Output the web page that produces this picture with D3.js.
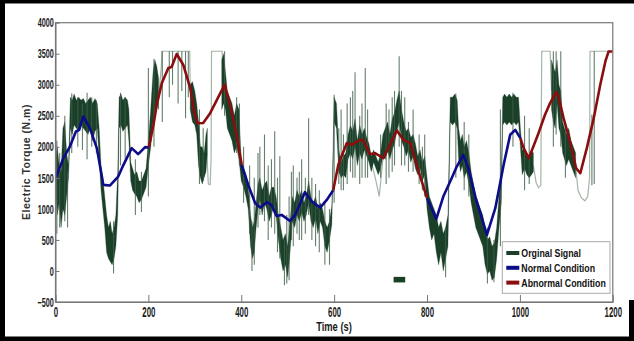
<!DOCTYPE html>
<html>
<head>
<meta charset="utf-8">
<script src="https://cdn.jsdelivr.net/npm/d3@7"></script>
<style>
  html, body { margin: 0; padding: 0; background: #fff; }
  svg { display: block; }
</style>
</head>
<body>
<div id="chart"></div>
<script>
// axis ticks
const xTicks = [0, 200, 400, 600, 800, 1000, 1200];
const yTicks = [-500, 0, 500, 1000, 1500, 2000, 2500, 3000, 3500, 4000];

// original signal: dense band [time, low, high], null = only thin trace there
const signalBand = [
  [0, 1300, 1800], [4, 900, 2000], [8, 1100, 1700], [12, 700, 1600], [16, 1000, 2300],
  [20, 900, 2400], [24, 1200, 1900], [28, 1500, 1700], [32, 2300, 2800], [36, 2200, 2750],
  [40, 2350, 2850], [45, 2300, 2750], [50, 2250, 2800], [55, 2350, 2750], [60, 2300, 2780],
  [65, 2250, 2700], [70, 2200, 2750], [75, 2300, 2800], [80, 2100, 2700], [85, 2250, 2780],
  [90, 2300, 2700], [94, 1800, 2300], [98, 1300, 1700], [102, 1000, 1500], [106, 700, 1200],
  [110, 300, 900], [114, 200, 700], [118, 150, 800], [122, 100, 600], [126, 200, 700],
  [130, 400, 900], [134, 900, 1600], [137, 2300, 2800], [141, 2350, 2850], [145, 2250, 2750],
  [150, 2300, 2800], [155, 2350, 2750], [158, 2100, 2600], [162, 1450, 1750], [166, 1300, 1650],
  [170, 1250, 1550], [175, 1200, 1600], [180, 1100, 1450], [185, 1150, 1450], [190, 1250, 1550],
  [195, 1350, 1650], [200, 1700, 2100], [205, 2000, 2600], [210, 2400, 3200], [214, 2600, 3400],
  [218, 2700, 3300], [222, 2600, 3100], [225, null, null],
  [290, 2600, 3000], [295, 2400, 3050], [300, 2350, 2900], [304, 2200, 2700], [308, 1700, 2400],
  [312, 1500, 2000], [316, 1400, 2000], [320, 1500, 1900], [324, 1600, 2200], [327, 1900, 2300],
  [330, null, null],
  [358, 2600, 3400], [362, 2700, 3500], [366, 2600, 3200], [370, 2300, 2900], [375, 2200, 2800],
  [380, 2100, 2700], [385, 1900, 2500], [390, 2000, 2700], [395, 1800, 2600], [400, 1450, 1750],
  [405, 1350, 1650], [410, 1200, 1550], [415, 1000, 1350], [420, 400, 900], [424, 200, 700],
  [428, 300, 800], [432, 700, 1100], [436, 1000, 1400], [440, 1150, 1500], [445, 900, 1300],
  [450, 1100, 1400], [455, 1000, 1450], [460, 800, 1200], [465, 900, 1350], [470, 1050, 1350],
  [475, 900, 1200], [480, 500, 900], [485, 200, 700], [490, 0, 500], [495, 100, 600],
  [500, -100, 400], [505, 300, 800], [510, 800, 1200], [515, 700, 1100], [520, 900, 1300],
  [525, 800, 1200], [530, 950, 1300], [535, 800, 1100], [540, 900, 1200], [545, 1100, 1450],
  [550, 800, 1200], [555, 700, 1100], [560, 850, 1200], [565, 600, 1000], [570, 800, 1100],
  [575, 700, 1000], [580, 400, 800], [585, 300, 700], [590, 500, 800], [595, 750, 1050],
  [600, 2400, 2800], [605, 2300, 2700], [610, 1600, 1950], [615, 1500, 1750], [620, 1550, 1850],
  [625, 1500, 1900], [630, 1800, 2200], [635, 1900, 2350], [640, 1800, 2250], [645, 2000, 2450],
  [650, 1700, 2100], [655, 1900, 2350], [660, 1800, 2200], [665, 1950, 2300], [670, 1850, 2150],
  [675, 1750, 2050], [680, 1600, 1850], [685, 1750, 1950], [690, 1650, 1850], [695, 1550, 1750],
  [700, 1650, 1900], [705, 1850, 2200], [710, 1800, 2300], [715, 1950, 2400], [720, 1800, 2200],
  [725, 1950, 2450], [730, 2050, 2550], [735, 2250, 2750], [740, 2400, 2900], [745, 2100, 2600],
  [750, 2000, 2400], [755, 1850, 2250], [760, 1950, 2300], [765, 1750, 2150], [770, 1850, 2200],
  [775, 1650, 2050], [780, 1550, 1850], [785, 1650, 1950], [790, 1450, 1750], [795, 1550, 1850],
  [800, 1000, 1500], [805, 700, 1200], [810, 500, 1100], [815, 600, 1000], [820, 300, 900],
  [825, 100, 700], [830, 300, 800], [835, 0, 600], [840, 200, 700], [845, 400, 900],
  [850, 2400, 2800], [855, 2350, 2800], [860, 2400, 2850], [865, 2300, 2750], [868, 1800, 2300],
  [872, 1600, 2100], [876, 1700, 2200], [880, 1500, 2000], [885, 1600, 2100], [890, 1400, 1900],
  [895, 1100, 1600], [900, 900, 1400], [905, 700, 1200], [910, 600, 1100], [915, 500, 1000],
  [920, 400, 900], [925, 100, 700], [930, -50, 500], [935, 0, 550], [940, -150, 400],
  [945, -100, 450], [950, 200, 700], [955, 700, 1200], [960, 1100, 1600], [963, 2350, 2800],
  [967, 2400, 2850], [972, 2350, 2800], [977, 2400, 2850], [982, 2350, 2800], [987, 2400, 2850],
  [992, 2350, 2800], [997, 2400, 2800], [1001, 2000, 2300], [1005, 1550, 1950], [1010, 1650, 1950],
  [1015, 1550, 1850], [1020, 1500, 1850], [1025, 1550, 1950], [1029, 1600, 1900], [1032, null, null],
  [1068, 2600, 3400], [1072, 2400, 3300], [1076, 2300, 3200], [1080, 2700, 3400], [1084, 2300, 3000],
  [1088, 2200, 2900], [1092, 1900, 2400], [1096, 1800, 2300], [1100, 1700, 2200], [1105, 1800, 2300],
  [1110, 1700, 2100], [1115, 1600, 2000], [1120, 1500, 1900], [1123, null, null]
];

// original signal: single spikes [time, low, high]
const signalSpikes = [
  [3, 600, 2100], [9, 700, 1900], [20, 800, 2500], [26, 700, 1600], [35, 1900, 2860],
  [48, 2000, 2800], [58, 1950, 2700], [68, 1800, 2870], [78, 2000, 2800], [88, 1900, 2750],
  [125, -40, 800], [140, 1700, 2870], [150, 1800, 2800], [172, 900, 1800], [185, 950, 1600],
  [200, 1200, 3270], [212, 2000, 3420], [230, 2400, 3540], [245, 2800, 3540], [252, 3000, 3540],
  [264, 2700, 3540], [272, 2900, 3540], [280, 2460, 3540], [286, 2800, 3540], [310, 1400, 2600],
  [318, 1450, 2300], [364, 2500, 3540], [390, 1900, 2800], [396, 1700, 2700], [405, 1100, 2000],
  [418, 600, 1700], [423, 0, 800], [428, 100, 1500], [436, 700, 1900], [440, 900, 2000],
  [450, 800, 2200], [458, 500, 1700], [465, 700, 1800], [472, 600, 2250], [478, 300, 1500],
  [483, 200, 1850], [493, -230, 500], [498, -200, 900], [503, -150, 1200], [508, 500, 1600],
  [512, 400, 1700], [520, 600, 1500], [525, 500, 1600], [530, 500, 1800], [538, 600, 1500],
  [545, 900, 2460], [552, 500, 1500], [560, 400, 1400], [568, 300, 1300], [580, 100, 1100],
  [590, 100, 1000], [600, 1100, 2840], [610, 1400, 2300], [615, 1300, 2600], [620, 1300, 2200],
  [628, 1400, 2700], [635, 1600, 2800], [640, 1500, 2900], [645, 1500, 3200], [655, 1400, 2500],
  [660, 1500, 2700], [667, 1500, 3270], [672, 1500, 2600], [700, 1500, 2200], [712, 1400, 2700],
  [718, 1500, 2600], [725, 1600, 2800], [730, 1700, 2900], [740, 2000, 3460], [745, 1700, 2900],
  [752, 1700, 2800], [760, 1600, 2400], [770, 1600, 2600], [783, 1400, 2200], [790, 1300, 2000],
  [795, 1200, 2200], [840, -100, 700], [862, 1500, 2860], [880, 1300, 2400], [890, 1200, 2200],
  [930, -200, 700], [944, -180, 500], [958, 400, 2600], [985, 2000, 2870], [1010, 1300, 2500],
  [1020, 1400, 2300], [1072, 2000, 3540], [1078, 2200, 3540], [1088, 2000, 3540], [1098, 1500, 2400],
  [1155, 1380, 2520], [1160, 1400, 3540]
];

// original signal: thin pale trace where it saturates [time, value]
const signalTrace = [
  [222, 2800], [228, 3300], [229, 3540], [289, 3540], [290, 2900], [null, null],
  [326, 1900], [329, 1400], [333, 1390], [335, 1800], [336, 3540], [359, 3540], [360, 2900], [null, null],
  [677, 1850], [690, 1450], [697, 1200], [705, 1800], [null, null],
  [1029, 1700], [1035, 1420], [1040, 1340], [1045, 1380], [1047, 3540], [1065, 3540], [1068, 2900], [null, null],
  [1120, 1700], [1125, 1300], [1132, 1180], [1140, 1130], [1146, 1200], [1150, 1500], [1151, 3540], [1200, 3540]
];

// stray signal fragment below the curves [t0, t1, v0, v1]
const strayMark = [728, 753, -95, -185];

// normal condition (blue) segments
const normalSegs = [
  [[0, 1495], [17, 1818], [31, 2005], [44, 2247], [51, 2274], [60, 2489], [74, 2301], [89, 1979],
   [103, 1387], [117, 1376], [135, 1521], [143, 1656], [164, 1979], [178, 1882], [193, 1995], [201, 1989]],
  [[401, 1710], [415, 1387], [430, 1092], [441, 1021], [455, 1108], [465, 1065], [476, 887], [487, 903],
   [505, 806], [516, 903], [527, 1092], [537, 1269], [552, 1118], [570, 1021], [584, 1145], [598, 1300]],
  [[800, 1172], [820, 839], [835, 1199], [853, 1495], [864, 1683], [878, 1871], [889, 1656], [904, 1199],
   [929, 581], [947, 1011], [965, 1710], [979, 2194], [990, 2274], [1001, 2140]]
];

// abnormal condition (red) segments
const abnormalSegs = [
  [[201, 1989], [211, 2355], [218, 2677], [229, 3027], [243, 3269], [250, 3285], [261, 3495], [275, 3323],
   [290, 2950], [300, 2520], [306, 2380], [318, 2385], [333, 2543], [344, 2704], [364, 3000], [376, 2677],
   [390, 2194], [401, 1710]],
  [[598, 1300], [609, 1710], [627, 2059], [637, 2032], [656, 2113], [663, 2100], [677, 1882], [688, 1898],
   [706, 1818], [717, 1979], [735, 2263], [749, 2113], [764, 2059], [782, 1602], [800, 1172]],
  [[1001, 2140], [1008, 1979], [1019, 1818], [1029, 2005], [1040, 2220], [1054, 2516], [1065, 2704],
   [1078, 2882], [1083, 2812], [1094, 2462], [1108, 2086], [1121, 1656], [1130, 1575], [1144, 1979],
   [1159, 2462], [1173, 3000], [1184, 3376], [1191, 3537], [1200, 3537]]
];

const legendItems = [
  { label: 'Orginal Signal', color: '#1b4029' },
  { label: 'Normal Condition', color: '#0c0c8a' },
  { label: 'Abnormal Condition', color: '#8a0e0e' }
];

const W = 634, H = 341;
const green = '#1b4029', pale = '#a3b5a8';

const svg = d3.select('#chart').append('svg').attr('width', W).attr('height', H);
svg.append('rect').attr('width', W).attr('height', H).attr('fill', '#fff');

const x = d3.scaleLinear().domain([0, 1200]).range([55.5, 612.8]);
const y = d3.scaleLinear().domain([-500, 4000]).range([302, 22.7]);

svg.append('clipPath').attr('id', 'plotclip')
  .append('rect').attr('x', 55.5).attr('y', 22.7).attr('width', 612.8 - 55.5).attr('height', 302 - 22.7);

const plot = svg.append('g').attr('clip-path', 'url(#plotclip)');

// pale trace first, dense parts on top of it
plot.append('path')
  .datum(signalTrace)
  .attr('fill', 'none')
  .attr('stroke', pale)
  .attr('stroke-width', 1.2)
  .attr('d', d3.line().defined((d) => d[0] !== null).x((d) => x(d[0])).y((d) => y(d[1])));

plot.append('path')
  .datum(signalBand)
  .attr('fill', green)
  .attr('stroke', green)
  .attr('stroke-width', 0.6)
  .attr('stroke-opacity', 0.5)
  .attr('d', d3.area().defined((d) => d[1] !== null).x((d) => x(d[0])).y0((d) => y(d[1])).y1((d) => y(d[2])));

plot.selectAll('line.spike')
  .data(signalSpikes)
  .join('line')
  .attr('class', 'spike')
  .attr('x1', (d) => x(d[0])).attr('x2', (d) => x(d[0]))
  .attr('y1', (d) => y(d[1])).attr('y2', (d) => y(d[2]))
  .attr('stroke', '#3e5e49')
  .attr('stroke-width', 1.1)
  .attr('stroke-opacity', 0.8);

plot.append('rect')
  .attr('x', x(strayMark[0])).attr('y', y(strayMark[2]))
  .attr('width', x(strayMark[1]) - x(strayMark[0])).attr('height', y(strayMark[3]) - y(strayMark[2]))
  .attr('fill', green);

const line = d3.line().x((d) => x(d[0])).y((d) => y(d[1]));

plot.selectAll('path.normal')
  .data(normalSegs)
  .join('path')
  .attr('class', 'normal')
  .attr('fill', 'none')
  .attr('stroke', '#0c0c8a')
  .attr('stroke-width', 2.6)
  .attr('stroke-linejoin', 'round')
  .attr('d', line);

plot.selectAll('path.abnormal')
  .data(abnormalSegs)
  .join('path')
  .attr('class', 'abnormal')
  .attr('fill', 'none')
  .attr('stroke', '#8a0e0e')
  .attr('stroke-width', 2.6)
  .attr('stroke-linejoin', 'round')
  .attr('d', line);

// plot frame
svg.append('rect')
  .attr('x', 55.5).attr('y', 22.7).attr('width', 612.8 - 55.5).attr('height', 302 - 22.7)
  .attr('fill', 'none').attr('stroke', '#777').attr('stroke-width', 1.2);

// no narrow font installed, so the condensed look comes from a horizontal scale
const tickFont = '"Liberation Sans", Arial, sans-serif';

const xAxis = svg.append('g')
  .attr('transform', 'translate(0,302)')
  .call(d3.axisBottom(x).tickValues(xTicks).tickFormat(d3.format('d'))
    .tickSizeInner(-7).tickSizeOuter(0).tickPadding(5));
xAxis.select('.domain').attr('stroke', '#777');
xAxis.selectAll('.tick line').attr('stroke', '#777');
xAxis.selectAll('.tick text')
  .attr('fill', '#1a1a1a')
  .style('font-family', tickFont).style('font-weight', 'bold').style('font-size', '14px')
  .attr('transform', 'scale(0.56,1)');

const yAxis = svg.append('g')
  .attr('transform', 'translate(55.5,0)')
  .call(d3.axisLeft(y).tickValues(yTicks).tickFormat(d3.format('d'))
    .tickSizeInner(-4).tickSizeOuter(0).tickPadding(3));
yAxis.select('.domain').attr('stroke', '#777');
yAxis.selectAll('.tick line').attr('stroke', '#777');
yAxis.selectAll('.tick text')
  .attr('fill', '#1a1a1a')
  .style('font-family', tickFont).style('font-weight', 'bold').style('font-size', '13px')
  .attr('transform', 'scale(0.56,1)');

// axis titles
svg.append('text')
  .attr('transform', 'translate(29.5,162) rotate(-90)')
  .attr('text-anchor', 'middle')
  .attr('fill', '#333')
  .style('font-family', '"Liberation Sans", Arial, sans-serif')
  .style('font-weight', 'bold').style('font-size', '10.5px').style('letter-spacing', '0.5px')
  .text('Electric Torque (N.m)');

svg.append('text')
  .attr('transform', 'translate(334,331) scale(0.75,1)')
  .attr('text-anchor', 'middle')
  .attr('fill', '#1a1a1a')
  .style('font-family', tickFont).style('font-weight', 'bold').style('font-size', '12.5px')
  .text('Time (s)');

// legend
const lg = svg.append('g').attr('transform', 'translate(502.3,241.7)');
lg.append('rect').attr('width', 107.7).attr('height', 51.6)
  .attr('fill', '#fff').attr('stroke', '#aaa').attr('stroke-width', 1);
const li = lg.selectAll('g.item').data(legendItems).join('g')
  .attr('class', 'item')
  .attr('transform', (d, i) => `translate(0,${11.3 + i * 14.8})`);
li.append('line').attr('x1', 4).attr('x2', 17).attr('y1', 0).attr('y2', 0)
  .attr('stroke', (d) => d.color).attr('stroke-width', 4);
li.append('text')
  .attr('transform', 'translate(19,4) scale(0.8,1)')
  .attr('fill', '#111')
  .style('font-family', tickFont).style('font-weight', 'bold').style('font-size', '11px')
  .text((d) => d.label);

// outer black frame of the figure
svg.append('rect').attr('x', 0).attr('y', 0).attr('width', W).attr('height', 3.5).attr('fill', '#000');
svg.append('rect').attr('x', 0).attr('y', 0).attr('width', 5).attr('height', H).attr('fill', '#000');
svg.append('rect').attr('x', 0).attr('y', 336.5).attr('width', W).attr('height', 4.5).attr('fill', '#000');
svg.append('rect').attr('x', 629).attr('y', 300).attr('width', 5).attr('height', 41).attr('fill', '#000');
</script>
</body>
</html>
